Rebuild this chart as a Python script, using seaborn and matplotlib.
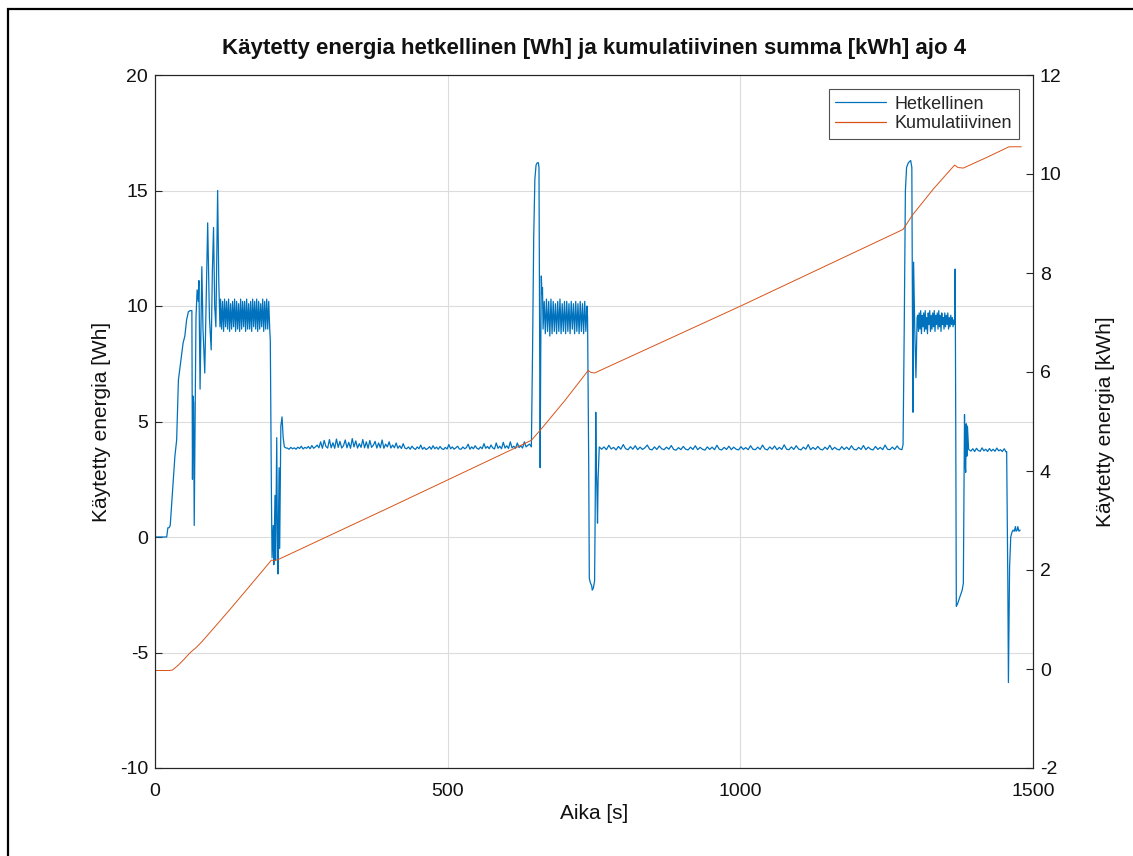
import numpy as np
import pandas as pd
import matplotlib
matplotlib.use("Agg")
import matplotlib.pyplot as plt
import seaborn as sns
from matplotlib.lines import Line2D
from matplotlib.patches import Rectangle

# ---------------- data ----------------
title = "Käytetty energia hetkellinen [Wh] ja kumulatiivinen summa [kWh] ajo 4"
xlabel = "Aika [s]"
ylabel_left = "Käytetty energia [Wh]"
ylabel_right = "Käytetty energia [kWh]"
legend_labels = ["Hetkellinen", "Kumulatiivinen"]

x_ticks = [0, 500, 1000, 1500]
y_left_ticks = [-10, -5, 0, 5, 10, 15, 20]
y_right_ticks = [-2, 0, 2, 4, 6, 8, 10, 12]

# instantaneous energy [Wh]: explicit points and evenly sampled stretches
start_t = [0, 20, 22, 24, 26, 30, 34, 37, 40, 44, 48, 51, 54, 57, 60, 63,
           64, 65, 66, 67, 70, 72, 74, 75, 77, 80, 82, 85, 88, 90, 93, 96, 98,
           100, 102, 104, 106, 107, 109, 111]
start_v = [0, 0, 0.4, 0.4, 0.5, 2.0, 3.5, 4.2, 6.8, 7.6, 8.4, 8.7, 9.4, 9.75, 9.8, 9.8,
           2.5, 6.1, 5.8, 0.5, 9.5, 10.7, 10.2, 11.1, 6.4, 11.7, 9.0, 7.1, 11.0, 13.6, 9.5, 8.1, 11.5,
           13.4, 10.0, 9.1, 13.0, 15.0, 11.0, 9.1]

osc1_span = (112, 196)
osc1_v = [10.3, 9.0, 10.2, 8.9, 10.3, 9.1, 10.2, 9.0, 10.3, 8.9, 10.1, 9.0, 10.2, 9.1, 10.3, 8.9,
          10.2, 9.0, 10.1, 8.9, 10.3, 9.0, 10.2, 9.1, 10.2, 8.9, 10.3, 9.0, 10.1, 9.0, 10.2, 8.9,
          10.3, 9.1, 10.2, 9.0, 10.3, 8.9, 10.2, 9.0, 10.1, 9.1, 10.3, 8.9, 10.2, 9.0, 10.3, 9.0,
          10.2, 9.0]

drop1_t = [197, 199, 200, 202, 203, 205, 206, 208, 209, 210, 212, 213, 215, 217, 219, 221, 224]
drop1_v = [8.5, 1.5, -0.9, 0.5, -1.2, 1.8, -1.0, 4.3, 0.2, -1.6, 3.0, -0.5, 4.8, 5.2, 4.3, 3.9, 3.85]

flatA_span = (226, 640)
flatA_v = [3.85, 3.80, 3.88, 3.82, 3.86, 3.80, 3.89, 3.83, 3.93, 3.81, 3.88, 3.84, 3.92, 3.82,
           3.96, 3.84, 3.90, 3.98,
           3.86, 4.12, 3.84, 4.18, 3.92, 3.85, 4.22, 3.86, 4.08, 3.84, 4.24, 3.88, 4.14, 3.85,
           3.95, 4.20, 3.86, 4.10, 3.84, 4.26, 3.90, 4.16, 3.85, 4.04, 3.88, 4.22, 3.86, 4.12,
           3.84, 4.18, 3.88, 3.97, 4.14, 3.85, 4.07, 3.86, 4.20, 3.84, 4.02, 3.90, 4.12, 3.85,
           3.98, 3.86, 4.07, 3.84, 3.95, 3.83, 4.04, 3.85,
           3.82, 3.90, 3.80, 3.93, 3.84, 3.79, 3.90, 3.82, 3.98, 3.80, 3.88, 3.79, 3.83, 3.91,
           3.80, 3.95, 3.82, 3.89, 3.80, 3.92, 3.82, 3.79, 3.88, 3.81, 4.00, 3.82, 3.90, 3.80,
           3.86, 3.93, 3.81, 3.80, 3.90, 3.82, 3.87, 4.02, 3.80, 3.90, 3.82, 3.95, 3.84, 3.80,
           3.90, 3.82, 4.04, 3.84, 3.92, 3.82, 3.98, 3.86, 3.81, 4.07, 3.84, 3.93, 3.82, 4.10,
           3.85, 3.95, 3.83, 4.12, 3.86, 3.93, 3.84, 4.07, 3.87, 3.95, 3.85, 4.12, 3.90, 3.97,
           4.02]

rise2_t = [643, 645, 647, 649, 651, 653, 655, 656, 657, 658, 659, 660, 661, 662]
rise2_v = [3.9, 8.0, 13.0, 15.5, 16.1, 16.2, 16.2, 16.0, 10.0, 3.0, 8.0, 11.3, 10.5, 10.8]

osc2_span = (663, 738)
osc2_v = [9.0, 10.2, 8.8, 10.3, 8.9, 10.2, 8.7, 10.3, 8.8, 10.2, 8.9, 10.1, 8.8, 10.2, 8.9,
          10.3, 8.8, 10.1, 8.9, 10.2, 8.8, 10.2, 8.9, 10.1, 8.8, 10.2, 9.0, 10.1, 8.8, 10.2,
          8.9, 10.1, 8.8, 10.2, 8.9, 10.1, 8.8, 10.2, 8.9, 10.0]

drop2_t = [739, 741, 742, 744, 746, 747, 749, 751, 752, 753, 754, 755, 756, 757, 759, 761]
drop2_v = [9.5, 3.0, -1.8, -2.0, -2.1, -2.3, -2.2, -1.9, 1.0, 5.4, 3.0, 2.0, 0.6, 2.5, 3.9, 3.85]

flatB_span = (763, 1276)
flatB_v = [3.80, 3.90, 3.78, 3.97, 3.81, 3.88, 3.77, 3.92, 3.80, 4.00, 3.82, 3.78, 3.91, 3.80,
           3.95, 3.78, 3.89, 3.79, 3.86, 3.98, 3.80, 3.77, 3.90, 3.79, 3.94, 3.82, 3.78, 3.89,
           3.80, 3.96, 3.79, 3.76, 3.87, 3.78, 3.92, 3.80, 3.77, 3.89, 3.79, 3.95, 3.78, 3.88,
           3.80, 3.76, 3.90, 3.79, 3.89, 3.78, 3.97, 3.80, 3.77, 3.88, 3.79, 3.93, 3.78, 3.89,
           3.80, 3.77, 3.91, 3.79, 3.87, 3.78, 3.95, 3.80, 3.78, 3.89, 3.79, 3.98, 3.81, 3.77,
           3.90, 3.80, 3.94, 3.78, 3.88, 3.79, 3.99, 3.80, 3.78, 3.90, 3.79, 3.95, 3.81, 3.77,
           3.89, 3.80, 4.00, 3.78, 3.88, 3.79, 3.92, 3.80, 3.77, 3.89, 3.79, 3.97, 3.78, 3.88,
           3.80, 3.77, 3.91, 3.79, 3.89, 3.78, 3.95, 3.80, 3.77, 3.88, 3.79, 3.96, 3.78, 3.89,
           3.80, 3.77, 3.92, 3.79, 3.88, 3.78, 3.98, 3.80, 3.78, 3.89, 3.79, 3.94, 3.81, 3.78]

rise3_t = [1278, 1280, 1282, 1284, 1287, 1291, 1293, 1294, 1295, 1296, 1298, 1300, 1302]
rise3_v = [4.0, 9.0, 15.0, 16.0, 16.2, 16.3, 16.0, 10.0, 5.4, 11.9, 9.0, 6.9, 9.5]

osc3_span = (1303, 1366)
osc3_v = [9.6, 8.9, 9.7, 9.0, 9.8, 8.8, 9.6, 9.1, 9.7, 8.9, 9.8, 9.0, 9.5, 8.8, 9.7, 9.2,
          9.8, 8.9, 9.6, 9.0, 9.7, 9.1, 9.8, 8.9, 9.6, 9.2, 9.7, 9.0, 9.8, 9.1, 9.6, 8.9,
          9.7, 9.2, 9.5, 9.0, 9.7, 9.1, 9.6, 9.2, 9.7, 9.0, 9.5, 9.1, 9.6, 9.2, 9.5, 9.1,
          9.4, 9.2]

drop3_t = [1367, 1368, 1369, 1371, 1375, 1379, 1381, 1383, 1384, 1385, 1386, 1387, 1388, 1390, 1392]
drop3_v = [11.6, 5.0, -3.0, -2.9, -2.6, -2.3, -2.0, 5.3, 3.2, 2.8, 4.9, 3.5, 4.8, 3.8, 3.75]

flatC_span = (1394, 1454)
flatC_v = [3.72, 3.82, 3.70, 3.84, 3.74, 3.71, 3.86, 3.73, 3.80, 3.70, 3.83, 3.72, 3.80,
           3.71, 3.85, 3.73, 3.78, 3.70, 3.82, 3.68]

end_t = [1455, 1457, 1458, 1460, 1462, 1464, 1466, 1468, 1470, 1471, 1473, 1474, 1476, 1478]
end_v = [3.7, -2.0, -6.3, -1.3, 0.0, 0.2, 0.3, 0.25, 0.45, 0.25, 0.3, 0.45, 0.25, 0.3]

# cumulative energy [kWh]
kum_t = [0, 25, 30, 40, 50, 60, 70, 80, 100, 130, 160, 199, 205, 212, 400, 643, 660, 700,
         740, 745, 751, 1000, 1278, 1294, 1330, 1366, 1372, 1381, 1420, 1459, 1480]
kum_v = [-0.03, -0.03, -0.02, 0.08, 0.2, 0.33, 0.43, 0.55, 0.82, 1.23, 1.65, 2.2, 2.19, 2.22,
         3.26, 4.62, 4.85, 5.42, 6.03, 5.99, 5.98, 7.33, 8.88, 9.17, 9.7, 10.18, 10.13, 10.12,
         10.33, 10.55, 10.55]

# ---------------- assemble ----------------
def stretch(span, vals):
    return list(np.linspace(span[0], span[1], len(vals))), list(vals)

parts = [
    (start_t, start_v), stretch(osc1_span, osc1_v), (drop1_t, drop1_v),
    stretch(flatA_span, flatA_v), (rise2_t, rise2_v), stretch(osc2_span, osc2_v),
    (drop2_t, drop2_v), stretch(flatB_span, flatB_v), (rise3_t, rise3_v),
    stretch(osc3_span, osc3_v), (drop3_t, drop3_v), stretch(flatC_span, flatC_v),
    (end_t, end_v),
]
ht, hv = [], []
for t, v in parts:
    ht += list(t)
    hv += list(v)
df_h = pd.DataFrame({"t": ht, "v": hv})
df_k = pd.DataFrame({"t": kum_t, "v": kum_v})

# ---------------- plot ----------------
sns.set_theme(style="white")
plt.rcParams["font.family"] = ["Liberation Sans", "DejaVu Sans"]
plt.rcParams["axes.unicode_minus"] = False
axcol = "#262626"
txtcol = "#111111"
blue = "#0072BD"
orange = "#D95319"

fig = plt.figure(figsize=(11.33, 8.56), dpi=100)
ax = fig.add_axes([155/1133, 1-768/856, (1033-155)/1133, (768-75)/856])
ax2 = ax.twinx()

sns.lineplot(data=df_h, x="t", y="v", ax=ax, color=blue, linewidth=0.9,
             estimator=None, sort=False)
sns.lineplot(data=df_k, x="t", y="v", ax=ax2, color=orange, linewidth=0.7,
             estimator=None, sort=False)

ax.set_xlim(0, 1500)
ax.set_ylim(-10, 20)
ax2.set_ylim(-2, 12)
ax.set_xticks(x_ticks)
ax.set_yticks(y_left_ticks)
ax2.set_yticks(y_right_ticks)

ax.grid(True, color="#dcdcdc", linewidth=0.8)
ax.set_axisbelow(True)

for a in (ax, ax2):
    for s in a.spines.values():
        s.set_color(axcol)
        s.set_linewidth(0.8)
    a.tick_params(direction="in", length=5, width=0.8, colors=axcol,
                  labelsize=14, labelcolor=txtcol)
ax.tick_params(axis="y", right=False, pad=5)
ax.tick_params(axis="x", top=False, pad=11)
ax2.tick_params(axis="y", left=False, pad=5)

ax.set_xlabel(xlabel, fontsize=15, color=txtcol, labelpad=3)
ax.set_ylabel(ylabel_left, fontsize=15, color=txtcol, labelpad=6)
ax2.set_ylabel(ylabel_right, fontsize=15, color=txtcol, labelpad=25)
ax.set_title(title, fontsize=16, fontweight="bold", color=txtcol, pad=15)

handles = [Line2D([], [], color=blue, linewidth=0.9),
           Line2D([], [], color=orange, linewidth=0.9)]
leg = ax2.legend(handles, legend_labels, loc="upper right", fontsize=13,
                 frameon=True, fancybox=False, handlelength=2.8, handletextpad=0.5,
                 borderaxespad=0.8, borderpad=0.35, labelspacing=0.15)
leg.get_frame().set_edgecolor(axcol)
leg.get_frame().set_linewidth(0.8)

fig.patches.append(Rectangle((8/1133, -0.05), 1.2, 1 - 9/856 + 0.05,
                             transform=fig.transFigure, fill=False,
                             edgecolor="black", linewidth=1.6))

fig.savefig("out.png", dpi=100)
